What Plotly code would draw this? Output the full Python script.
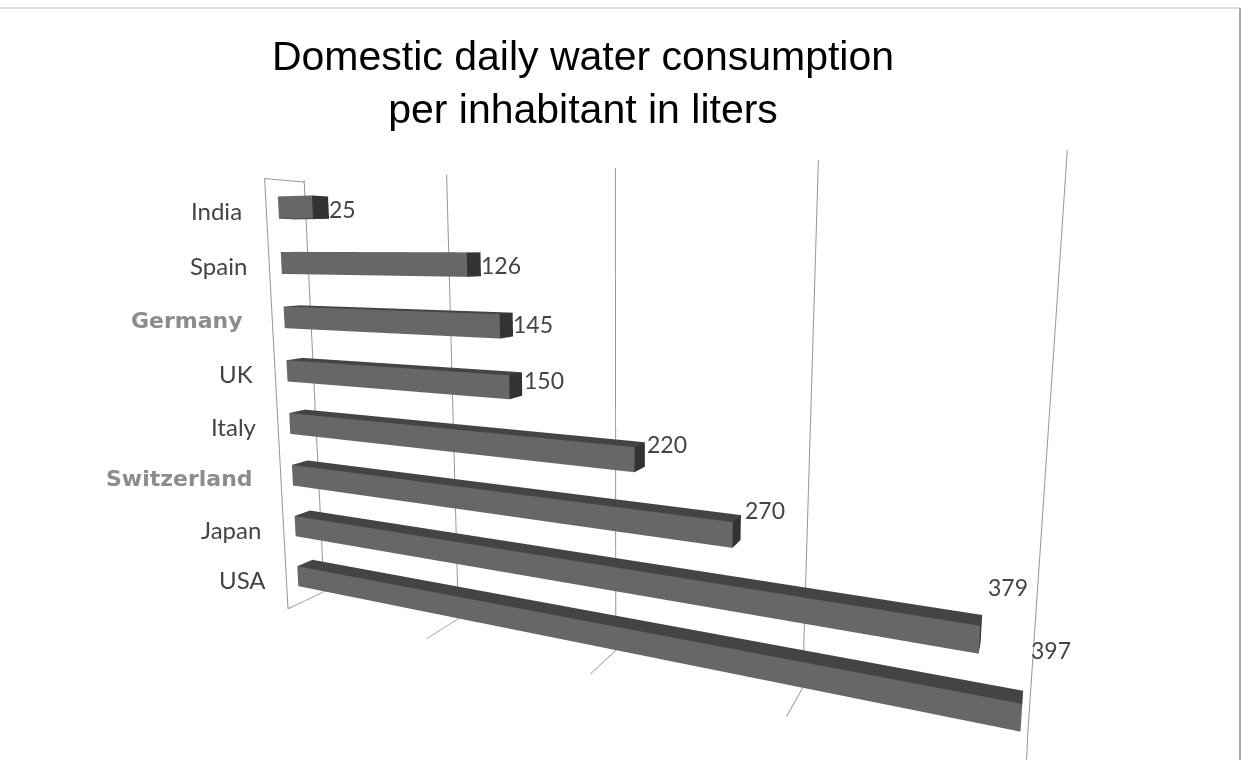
import plotly.graph_objects as go

countries = ["India", "Spain", "Germany", "UK", "Italy", "Switzerland", "Japan", "USA"]
liters = [25, 126, 145, 150, 220, 270, 379, 397]

FRONT, TOP, CAP = "#676767", "#444444", "#333333"
n = len(countries)
Y0, Y1 = 0.3, 0.72
H = 0.2

xs, ys, zs, ii, jj, kk, fc = [], [], [], [], [], [], []
for idx, v in enumerate(liters):
    z = n - 1 - idx
    b = len(xs)
    for X in (0, v):
        for Y in (Y0, Y1):
            for Z in (z - H, z + H):
                xs.append(X); ys.append(Y); zs.append(Z)
    faces = [((0, 1, 5), FRONT), ((0, 5, 4), FRONT),
             ((1, 3, 7), TOP), ((1, 7, 5), TOP),
             ((4, 5, 7), CAP), ((4, 7, 6), CAP),
             ((0, 2, 3), FRONT), ((0, 3, 1), FRONT),
             ((2, 6, 7), FRONT), ((2, 7, 3), FRONT),
             ((0, 4, 6), TOP), ((0, 6, 2), TOP)]
    for (a, c, d), col in faces:
        ii.append(b + a); jj.append(b + c); kk.append(b + d); fc.append(col)

fig = go.Figure()
fig.add_trace(go.Mesh3d(x=xs, y=ys, z=zs, i=ii, j=jj, k=kk, facecolor=fc, flatshading=True,
                        lighting=dict(ambient=1, diffuse=0, specular=0, roughness=1, fresnel=0),
                        hoverinfo="skip", showscale=False))
ZLO, ZHI = -0.55, n - 0.5
YB = 1.0
fig.add_trace(go.Scatter3d(x=[0, 0, 0, 0, 0], y=[YB, 0, 0, YB, 0], z=[ZHI, ZHI, ZLO, ZLO, ZLO],
                           mode="lines", line=dict(color="#969696", width=2), hoverinfo="skip", showlegend=False))

val_shift = [(15, -2), (12, 0), (11, 2), (13, 7), (10, 16), (10, 25), (7, 53), (8, 68)]
cat_shift = [-34, -32, -39, -32, -31, -37, -32, -30]
ann = []
for idx, (c, v) in enumerate(zip(countries, liters)):
    z = n - 1 - idx
    ann.append(dict(x=v, y=Y0, z=z, text=str(v), showarrow=False, xanchor="left",
                    xshift=val_shift[idx][0], yshift=val_shift[idx][1],
                    font=dict(family="Lato", size=23, color="#444444")))
    grey = c in ("Germany", "Switzerland")
    ann.append(dict(x=0, y=Y0, z=z, text=c, showarrow=False, xanchor="right", xshift=cat_shift[idx], yshift=-3,
                    font=dict(family="DejaVu Sans" if grey else "Lato", size=22 if grey else 24,
                              color="#8c8c8c" if grey else "#444444", weight="bold" if grey else "normal")))

hidden = dict(showgrid=False, showticklabels=False, showbackground=False, zeroline=False, showspikes=False,
              showline=False, ticks="", title="")
fig.update_layout(
    width=1242, height=760, margin=dict(l=0, r=0, t=0, b=0), paper_bgcolor="white", showlegend=False,
    title=dict(text="Domestic daily water consumption<br>per inhabitant in liters", x=583 / 1242, y=0.908, xanchor="center",
               yanchor="middle", font=dict(family="Liberation Sans", size=41, color="black")),
    scene=dict(
        domain=dict(x=[0, 1], y=[0, 1]),
        xaxis=dict(hidden, range=[0, 400], tick0=0, dtick=100, showgrid=True, gridcolor="#969696", gridwidth=2),
        yaxis=dict(hidden, range=[0, YB]),
        zaxis=dict(hidden, range=[ZLO, ZHI + 0.03]),
        aspectmode="manual", aspectratio=dict(x=2.0, y=0.15, z=1.25),
        camera=dict(eye=dict(x=0.98, y=-2.01, z=0.432), center=dict(x=0.05, y=0, z=0.112), up=dict(x=0, y=0, z=1),
                    projection=dict(type="perspective")),
        annotations=ann,
    ),
    shapes=[dict(type="line", xref="paper", yref="paper", x0=0, x1=1240 / 1242, y0=1 - 8 / 760, y1=1 - 8 / 760,
                 line=dict(color="#dddddd", width=2)),
            dict(type="line", xref="paper", yref="paper", x0=1240 / 1242, x1=1240 / 1242, y0=0, y1=1 - 8 / 760,
                 line=dict(color="#aaaaaa", width=2))],
)
fig.write_html("out.html", post_script="document.body.style.margin='0';", config=dict(displayModeBar=False))
